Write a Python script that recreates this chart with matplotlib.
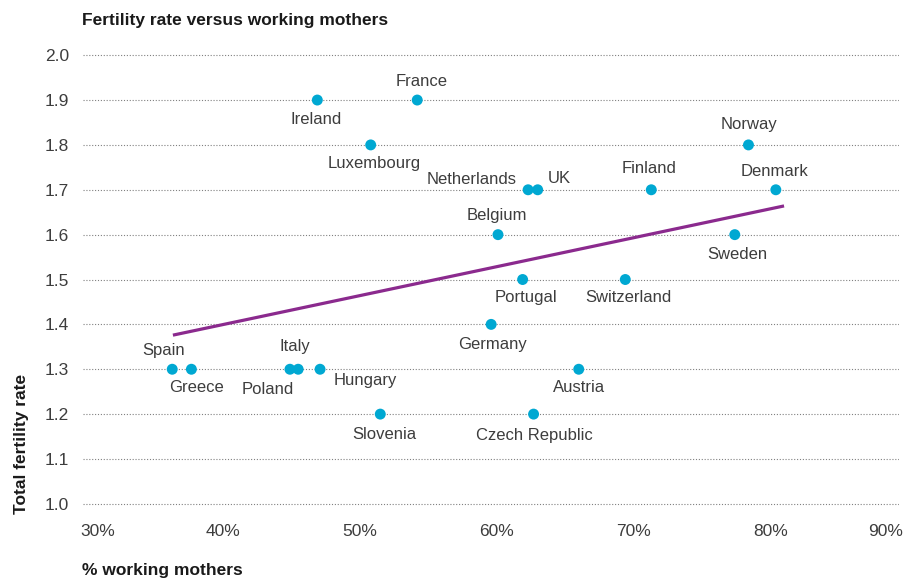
import matplotlib
matplotlib.use("Agg")
import matplotlib.pyplot as plt
import matplotlib.transforms as mtransforms

plt.rcParams['font.family'] = ['Liberation Sans', 'DejaVu Sans']

# --- dados ---
countries = ['France', 'Ireland', 'Luxembourg', 'Norway', 'Netherlands', 'UK',
             'Finland', 'Denmark', 'Belgium', 'Sweden', 'Portugal', 'Switzerland',
             'Germany', 'Spain', 'Greece', 'Italy', 'Poland', 'Hungary', 'Austria',
             'Slovenia', 'Czech Republic']
working_mothers = [54.2, 46.9, 50.8, 78.4, 62.3, 63.0,
                   71.3, 80.4, 60.1, 77.4, 61.9, 69.4,
                   59.6, 36.3, 37.7, 45.5, 44.9, 47.1, 66.0,
                   51.5, 62.7]
fertility = [1.9, 1.9, 1.8, 1.8, 1.7, 1.7,
             1.7, 1.7, 1.6, 1.6, 1.5, 1.5,
             1.4, 1.3, 1.3, 1.3, 1.3, 1.3, 1.3,
             1.2, 1.2]
trend_x = [36.35, 81.0]
trend_y = [1.376, 1.664]
xticks = [30, 40, 50, 60, 70, 80, 90]
xtick_labels = ['30%', '40%', '50%', '60%', '70%', '80%', '90%']
yticks = [1.0, 1.1, 1.2, 1.3, 1.4, 1.5, 1.6, 1.7, 1.8, 1.9, 2.0]

# posição dos rótulos (pixels, relativo ao ponto) e alinhamento
label_pos = {
    'France': (4, 19, 'center'), 'Ireland': (-1, -19, 'center'),
    'Luxembourg': (3, -19, 'center'), 'Norway': (1, 20, 'center'),
    'Netherlands': (-11, 10, 'right'), 'UK': (10, 11, 'left'),
    'Finland': (-2, 21, 'center'), 'Denmark': (-1, 18, 'center'),
    'Belgium': (-1, 19, 'center'), 'Sweden': (3, -20, 'center'),
    'Portugal': (3, -18, 'center'), 'Switzerland': (3, -18, 'center'),
    'Germany': (1, -20, 'center'), 'Spain': (-9, 19, 'center'),
    'Greece': (5, -18, 'center'), 'Italy': (-3, 23, 'center'),
    'Poland': (-22, -20, 'center'), 'Hungary': (14, -11, 'left'),
    'Austria': (0, -18, 'center'), 'Slovenia': (4, -20, 'center'),
    'Czech Republic': (1, -21, 'center'),
}

text_color = '#3d3d3d'
dot_color = '#00a8d2'
line_color = '#8b2a8e'

fig = plt.figure(figsize=(9.06, 5.79), dpi=100)
ax = fig.add_axes([0.0916, 0.1174, 0.9007, 0.7997])
ax.set_xlim(29.78, 89.4)
ax.set_ylim(0.984, 2.016)

# linhas de grade pontilhadas
for y in yticks:
    ax.axhline(y, color='#808080', linestyle=(0, (1, 1.6)), linewidth=0.8, zorder=1)

ax.plot(trend_x, trend_y, color=line_color, linewidth=2.3, solid_capstyle='butt', zorder=2)
ax.scatter(working_mothers, fertility, s=62, color=dot_color, edgecolors='none', zorder=3)

for name, x, y in zip(countries, working_mothers, fertility):
    dx, dy, ha = label_pos[name]
    ax.annotate(name, (x, y), xytext=(dx, dy), textcoords='offset pixels',
                ha=ha, va='center', fontsize=12, color=text_color)

for s in ax.spines.values():
    s.set_visible(False)
ax.set_xticks([])
ax.set_yticks(yticks)
ax.set_yticklabels([f'{v:.1f}' for v in yticks])
ax.tick_params(axis='y', length=0, pad=10, labelsize=12.5, labelcolor=text_color)

# rótulos do eixo x
trans = mtransforms.blended_transform_factory(ax.transData, ax.transAxes)
for t, lab in zip(xticks, xtick_labels):
    ha = 'center'
    xpos = t
    if t == xticks[0]:
        ha = 'left'
        xpos = t - 0.4
    elif t == xticks[-1]:
        ha = 'right'
        xpos = ax.get_xlim()[1] + 0.3
    ax.text(xpos, -0.045, lab, transform=trans, ha=ha, va='center',
            fontsize=12.5, color=text_color, clip_on=False)

fig.text(82 / 906, 1 - 20 / 579, 'Fertility rate versus working mothers',
         fontsize=12.5, fontweight='bold', color='#1a1a1a', va='center', ha='left')
fig.text(82 / 906, 1 - 570 / 579, '% working mothers',
         fontsize=12.5, fontweight='bold', color='#1a1a1a', va='center', ha='left')
fig.text(22 / 906, 1 - 444 / 579, 'Total fertility rate', rotation=90,
         fontsize=12.5, fontweight='bold', color='#1a1a1a', va='center', ha='center')

fig.savefig('out.png', dpi=100)
